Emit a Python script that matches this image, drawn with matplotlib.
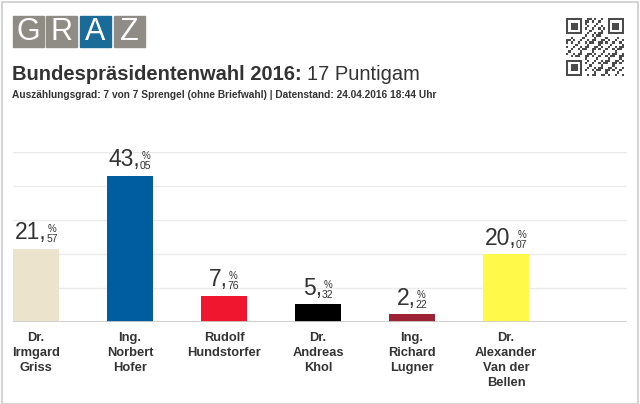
import numpy as np
import matplotlib.pyplot as plt
from matplotlib.patches import Rectangle
from matplotlib.offsetbox import TextArea, VPacker, HPacker, AnnotationBbox

plt.rcParams['font.family'] = ['Liberation Sans', 'DejaVu Sans']

# Data
candidates = ["Dr.\nIrmgard\nGriss", "Ing.\nNorbert\nHofer", "Rudolf\nHundstorfer",
              "Dr.\nAndreas\nKhol", "Ing.\nRichard\nLugner", "Dr.\nAlexander\nVan der\nBellen"]
percent = [21.57, 43.05, 7.76, 5.32, 2.22, 20.07]
colors = ['#ebe3cc', '#005ea0', '#f0162f', '#000000', '#9b2335', '#fff94a']
title_bold = "Bundespräsidentenwahl 2016:"
title_rest = "17 Puntigam"
subtitle = "Auszählungsgrad: 7 von 7 Sprengel (ohne Briefwahl) | Datenstand: 24.04.2016 18:44 Uhr"

W, H = 640, 404
fig = plt.figure(figsize=(W / 100, H / 100), dpi=100)


def fx(px):
    return px / W


def fy(py):
    return 1 - py / H


# outer frame
fig.patches.append(Rectangle((fx(2), 0), fx(636), fy(2), transform=fig.transFigure,
                             fill=False, edgecolor='#d4d4d4', lw=1.5))

# GRAZ logo
logo_x = [13, 46, 80, 114]
for i, ch in enumerate("GRAZ"):
    c = '#1b6b98' if ch == 'A' else '#8f8c85'
    fig.patches.append(Rectangle((fx(logo_x[i]), fy(47)), fx(31), 31 / H,
                                 transform=fig.transFigure, color=c))
    fig.text(fx(logo_x[i] + 15.5), fy(32), ch, color='white', fontsize=22,
             ha='center', va='center', fontweight='light')

# QR code like block
n = 25
qr = np.zeros((n, n))
for i in range(n):
    for j in range(n):
        qr[i, j] = 1 if (i * j + 2 * i + j) % 3 == 0 or (i + j) % 5 == 0 else 0
for (r, c) in [(0, 0), (0, n - 7), (n - 7, 0)]:
    qr[max(r - 1, 0):r + 8, max(c - 1, 0):c + 8] = 0
    qr[r:r + 7, c:c + 7] = 1
    qr[r + 1:r + 6, c + 1:c + 6] = 0
    qr[r + 2:r + 5, c + 2:c + 5] = 1
qax = fig.add_axes([fx(566), fy(76), fx(58), 58 / H])
qax.imshow(qr, cmap='Greys', interpolation='nearest', vmin=0, vmax=1.3)
qax.axis('off')

# Title and subtitle
t = fig.text(fx(12), fy(80), title_bold, fontsize=14.5, fontweight='bold', color='#333333')
fig.canvas.draw()
bb = t.get_window_extent()
fig.text(bb.x1 / W + fx(5), fy(80), title_rest, fontsize=14.5, color='#333333')
fig.text(fx(12), fy(98), subtitle, fontsize=7.3, fontweight='bold', color='#333333')

# Bar chart
ax = fig.add_axes([fx(13), fy(322), fx(614), 170 / H])
x = np.arange(len(percent))
bw = 0.49
ax.bar(x, percent, width=bw, align='edge', color=colors, edgecolor='none', zorder=3)
ax.set_xlim(0, 614 / 94)
ax.set_ylim(0, 50)
ax.set_yticks([10, 20, 30, 40, 50])
ax.grid(axis='y', color='#ebebeb', lw=1)
ax.axhline(0, color='#cccccc', lw=2, zorder=4)
ax.set_xticks([])
ax.tick_params(left=False, labelleft=False)
for s in ax.spines.values():
    s.set_visible(False)

for xi, v, name in zip(x, percent, candidates):
    cx = xi + bw / 2
    whole, dec = f"{v:.2f}".split('.')
    big = TextArea(whole + ",", textprops=dict(fontsize=16.5, color='#333333'))
    small = VPacker(children=[TextArea("%", textprops=dict(fontsize=7, color='#333333')),
                              TextArea(dec, textprops=dict(fontsize=7.5, color='#333333'))],
                    sep=0, pad=0, align='center')
    box = HPacker(children=[big, small], sep=0, pad=0, align='bottom')
    ab = AnnotationBbox(box, (cx, v), xybox=(0, 3), xycoords='data',
                        boxcoords='offset points', box_alignment=(0.5, 0), frameon=False)
    ax.add_artist(ab)
    ax.annotate(name, (cx, 0), xytext=(0, -7), textcoords='offset points',
                ha='center', va='top', fontsize=9.3, fontweight='bold',
                color='#333333', linespacing=1.35, annotation_clip=False)

fig.savefig('out.png', dpi=100)
